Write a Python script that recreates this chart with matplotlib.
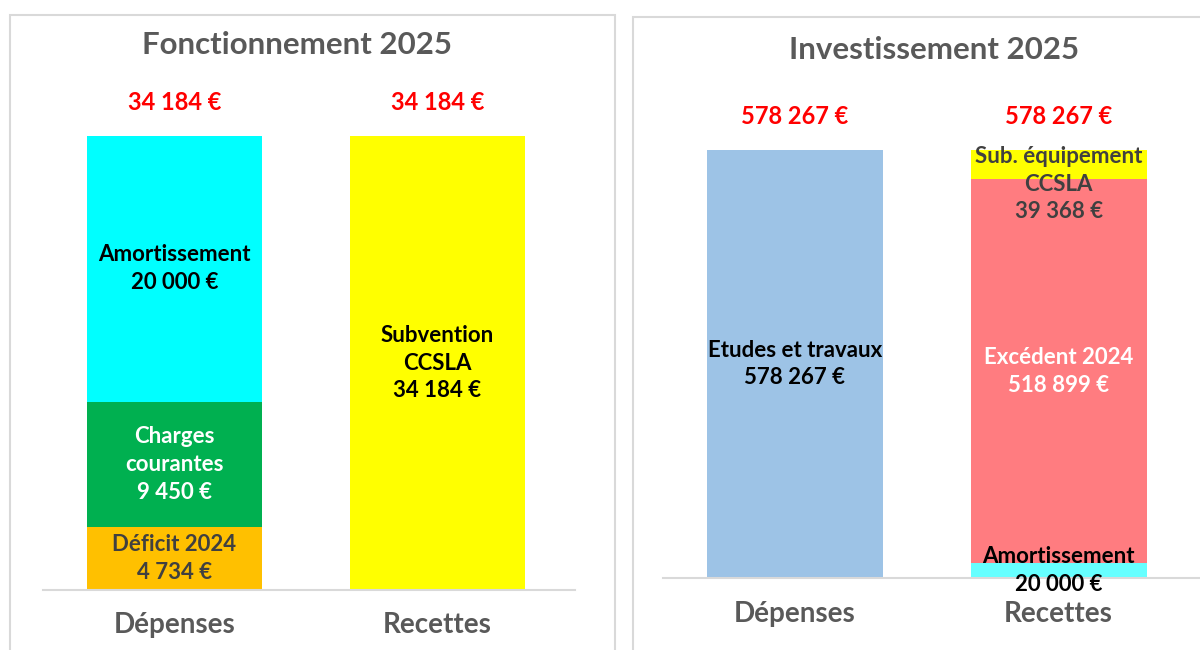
import matplotlib.pyplot as plt
from matplotlib.patches import Rectangle

plt.rcParams['font.family'] = ['Lato', 'DejaVu Sans']

# data
categories = ['Dépenses', 'Recettes']

fonc_title = 'Fonctionnement 2025'
fonc_dep_labels = ['Déficit 2024', 'Charges\ncourantes', 'Amortissement']
fonc_dep_values = [4734, 9450, 20000]
fonc_rec_labels = ['Subvention\nCCSLA']
fonc_rec_values = [34184]

inv_title = 'Investissement 2025'
inv_dep_labels = ['Etudes et travaux']
inv_dep_values = [578267]
inv_rec_labels = ['Amortissement', 'Excédent 2024', 'Sub. équipement\nCCSLA']
inv_rec_values = [20000, 518899, 39368]

fonc_dep_colors = ['#FFC000', '#00B050', '#00FFFF']
fonc_dep_text = ['#404040', 'white', 'black']
fonc_rec_colors = ['#FFFF00']
fonc_rec_text = ['black']
inv_dep_colors = ['#9DC3E6']
inv_dep_text = ['black']
inv_rec_colors = ['#66FFFF', '#FF7C80', '#FFFF00']
inv_rec_text = ['black', 'white', '#404040']

W, H = 1200, 650
fig = plt.figure(figsize=(12, 6.5), dpi=100)


def euro(v):
    return f'{v:,}'.replace(',', ' ') + ' €'


def box(x0, y0, x1, y1):
    fig.patches.append(Rectangle((x0 / W, 1 - y1 / H), (x1 - x0) / W, (y1 - y0) / H,
                                 transform=fig.transFigure, fill=False,
                                 edgecolor='#D9D9D9', lw=1.5))


box(10, 15, 615, 660)
box(633, 17, 1215, 660)


def stack(ax, x, values, labels, colors, tcols, width, offsets=None):
    bottom = 0
    for i, (v, lab, c, tc) in enumerate(zip(values, labels, colors, tcols)):
        ax.bar(x, v, width, bottom=bottom, color=c)
        dy = offsets[i] if offsets else 0
        ax.annotate(lab + '\n' + euro(v), (x, bottom + v / 2), xytext=(0, dy),
                    textcoords='offset points', ha='center', va='center',
                    fontsize=16, fontweight='bold', color=tc, linespacing=1.4,
                    annotation_clip=False)
        bottom += v
    ax.annotate(euro(bottom), (x, bottom), xytext=(0, 24), textcoords='offset points',
                ha='center', va='center', fontsize=17, fontweight='bold', color='#FF0000',
                annotation_clip=False)


def style(ax, ymax, xmax):
    ax.set_ylim(0, ymax)
    ax.set_xlim(-0.5, xmax)
    for s in ['top', 'right', 'left']:
        ax.spines[s].set_visible(False)
    ax.spines['bottom'].set_color('#D9D9D9')
    ax.spines['bottom'].set_linewidth(1.5)
    ax.set_yticks([])
    ax.set_xticks([0, 1])
    ax.set_xticklabels(categories, fontsize=20, fontweight='bold', color='#595959')
    ax.tick_params(axis='x', length=0, pad=15.5)
    ax.patch.set_alpha(0)


# Fonctionnement
ax1 = fig.add_axes([43 / W, 1 - 590 / H, (575 - 43) / W, (590 - 80) / H])
stack(ax1, 0, fonc_dep_values, fonc_dep_labels, fonc_dep_colors, fonc_dep_text, 0.665)
stack(ax1, 1, fonc_rec_values, fonc_rec_labels, fonc_rec_colors, fonc_rec_text, 0.665)
style(ax1, 34184 * 510 / 454, 1.523)
fig.text(297 / W, 1 - 45 / H, fonc_title, ha='center', va='center',
         fontsize=22.5, fontweight='bold', color='#595959')

# Investissement
ax2 = fig.add_axes([663 / W, 1 - 578 / H, (1200 - 663) / W, (578 - 80) / H])
stack(ax2, 0, inv_dep_values, inv_dep_labels, inv_dep_colors, inv_dep_text, 0.668)
stack(ax2, 1, inv_rec_values, inv_rec_labels, inv_rec_colors, inv_rec_text, 0.668,
      offsets=[0, 0, -14])
style(ax2, 578267 * 498 / 428, 1.536)
ax2.tick_params(axis='x', pad=16.5)
fig.text(934 / W, 1 - 50 / H, inv_title, ha='center', va='center',
         fontsize=22.5, fontweight='bold', color='#595959')

fig.savefig('out.png', dpi=100)
